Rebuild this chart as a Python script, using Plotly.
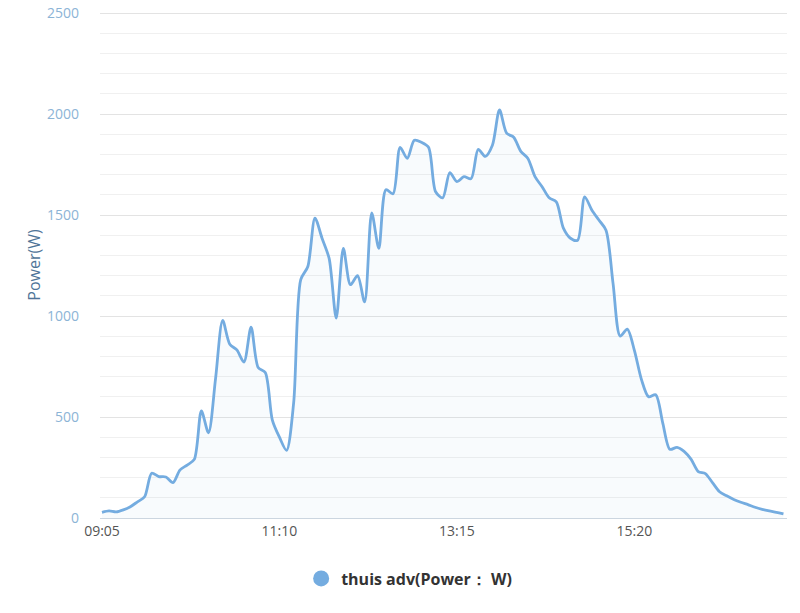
import plotly.graph_objects as go
import pandas as pd

times = [t.strftime("%H:%M") for t in pd.date_range("2024-01-01 09:05", periods=97, freq="5min")]
power = [28, 35, 30, 40, 56, 80, 105, 222, 205, 203, 175, 238, 262, 290, 530, 422,
         690, 978, 860, 832, 772, 945, 745, 720, 485, 400, 335, 570, 1180, 1245,
         1485, 1385, 1285, 990, 1335, 1155, 1200, 1070, 1510, 1335, 1625, 1605,
         1835, 1780, 1870, 1860, 1835, 1615, 1585, 1710, 1665, 1690, 1680, 1825,
         1790, 1845, 2020, 1905, 1885, 1815, 1780, 1690, 1640, 1585, 1565, 1435,
         1385, 1375, 1590, 1525, 1475, 1425, 1160, 900, 935, 830, 685, 600, 610,
         470, 340, 350, 330, 290, 230, 220, 175, 130, 110, 92, 78, 66, 53, 43, 35,
         28, 20]
tick_labels = ["09:05", "11:10", "13:15", "15:20"]
series_name = "thuis adv(Power\uff1a W)"

line_color = "#74ace0"

fig = go.Figure()
fig.add_trace(go.Scatter(
    x=times, y=power, mode="lines",
    line=dict(color=line_color, width=2.8, shape="spline", smoothing=0.8),
    fill="tozeroy", fillcolor="rgba(116,172,224,0.05)",
    showlegend=False, hoverinfo="x+y",
))
fig.add_trace(go.Scatter(
    x=[None], y=[None], mode="markers", name=series_name,
    marker=dict(color=line_color, size=16, symbol="circle"),
    showlegend=True,
))

fig.update_layout(
    width=800, height=613,
    margin=dict(l=100, r=13, t=12, b=95),
    paper_bgcolor="white", plot_bgcolor="white",
    font=dict(family="'Open Sans', sans-serif"),
    legend=dict(orientation="h", x=0.45, xanchor="center", y=-0.086, yanchor="top",
                font=dict(size=16, color="#333333", weight="bold"),
                itemsizing="trace"),
)
fig.update_xaxes(
    type="category", range=[-0.28, 96.5], automargin=False,
    tickmode="array", tickvals=tick_labels, ticktext=tick_labels,
    showgrid=False, showline=True, linecolor="#ccd6e0", linewidth=1,
    ticks="", tickfont=dict(size=14, color="#555555"),
    zeroline=False,
)
fig.update_yaxes(
    range=[0, 2505], dtick=500, tick0=0, automargin=False,
    showgrid=True, gridcolor="#e3e3e3", gridwidth=1,
    minor=dict(dtick=100, showgrid=True, gridcolor="#f0f0f0"),
    zeroline=False, showline=False,
    ticks="", ticklabelstandoff=20,
    tickfont=dict(size=14, color="#8cb4d6"),
    title=dict(text="Power(W)", font=dict(size=16, color="#4f7498"), standoff=2),
)

fig.write_html("out.html", config={"displayModeBar": False},
               post_script="document.body.style.margin='0';")
